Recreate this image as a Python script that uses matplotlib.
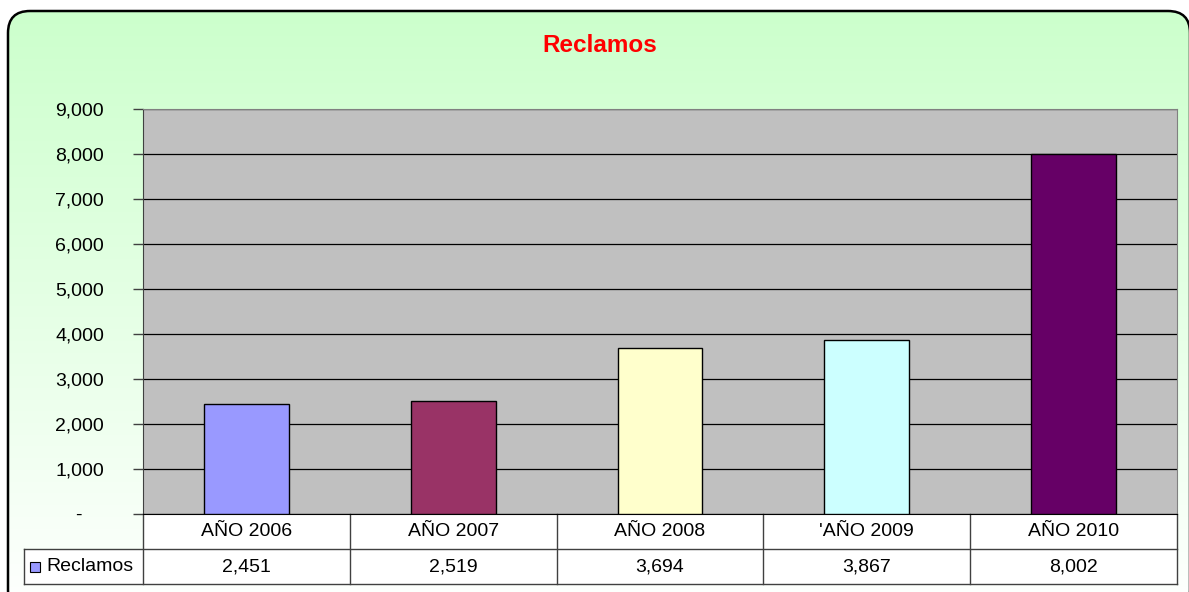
import matplotlib
matplotlib.use("Agg")
import matplotlib.pyplot as plt
import numpy as np
from matplotlib.patches import FancyBboxPatch, Rectangle
from matplotlib.lines import Line2D
import matplotlib.transforms as mtransforms

plt.rcParams['font.family'] = ['Liberation Sans', 'DejaVu Sans']

categories = ["AÑO 2006", "AÑO 2007", "AÑO 2008", "'AÑO 2009", "AÑO 2010"]
values = [2451, 2519, 3694, 3867, 8002]
value_labels = ["2,451", "2,519", "3,694", "3,867", "8,002"]
bar_colors = ["#9999FF", "#993366", "#FFFFCC", "#CCFFFF", "#660066"]
series_name = "Reclamos"
title = "Reclamos"
yticks = [0, 1000, 2000, 3000, 4000, 5000, 6000, 7000, 8000, 9000]
ytick_labels = ["-    ", "1,000", "2,000", "3,000", "4,000", "5,000", "6,000", "7,000", "8,000", "9,000"]

W, H = 1189, 592
fig = plt.figure(figsize=(W / 100, H / 100), dpi=100)
fig.patch.set_facecolor("white")

# background rounded box with gradient
bg = fig.add_axes([0, 0, 1, 1], zorder=-5)
bg.set_xlim(0, W)
bg.set_ylim(0, H)
bg.axis("off")
grad = np.linspace(0, 1, 256).reshape(-1, 1)
top = np.array([0xCC, 0xFF, 0xCC]) / 255.0
bot = np.array([1.0, 1.0, 1.0])
img = top[None, None, :] * (1 - grad[..., None]) + bot[None, None, :] * grad[..., None]
img = np.repeat(img, 2, axis=1)
box = FancyBboxPatch((8, -20), 1182, 601, boxstyle="round,pad=0,rounding_size=22",
                     facecolor="none", edgecolor="black", linewidth=1.8)
bg.add_patch(box)
im = bg.imshow(img, extent=[8, 1190, -20, 581], origin="upper", aspect="auto")
im.set_clip_path(box)

# main axes
left, right, topy, boty = 143, 1177, 109, 514
ax = fig.add_axes([left / W, 1 - boty / H, (right - left) / W, (boty - topy) / H])
ax.set_facecolor("#C0C0C0")
x = np.arange(len(categories))
ax.bar(x, values, width=0.41, color=bar_colors, edgecolor="black", linewidth=1.0, zorder=3)
ax.set_xlim(-0.5, len(categories) - 0.5)
ax.set_ylim(0, 9000)
ax.set_yticks(yticks)
ax.set_yticklabels(ytick_labels, fontsize=14)
ax.tick_params(axis="y", direction="out", length=7, width=1, color="#404040", pad=21)
ax.set_xticks([])
ax.yaxis.grid(True, color="black", linewidth=0.9, zorder=1)
ax.set_axisbelow(True)
for s in ["top", "right"]:
    ax.spines[s].set_color("#808080")
ax.spines["left"].set_color("#404040")
ax.spines["bottom"].set_color("black")

fig.text(600 / W, 1 - 45 / H, title, color="#FF0000", fontsize=17.5, fontweight="bold",
         ha="center", va="center")

# data table
axh = boty - topy
row = 35 / axh
trans = mtransforms.blended_transform_factory(ax.transData, ax.transAxes)
lc = "#404040"
legx = (24 - left) / (right - left)
# white cell backgrounds
ax.add_patch(Rectangle((0, -2 * row), 1, 2 * row, transform=ax.transAxes,
                       facecolor="white", edgecolor="none", clip_on=False, zorder=0.5))
ax.add_patch(Rectangle((legx, -2 * row), -legx, row, transform=ax.transAxes,
                       facecolor="white", edgecolor="none", clip_on=False, zorder=0.5))
# vertical lines between categories
for b in np.arange(-0.5, len(categories), 1.0):
    ax.add_line(Line2D([b, b], [0, -2 * row], transform=trans, color=lc, linewidth=1, clip_on=False))
# horizontal lines
ax.add_line(Line2D([legx, 1], [-row, -row], transform=ax.transAxes, color=lc, linewidth=1, clip_on=False))
ax.add_line(Line2D([legx, 1], [-2 * row, -2 * row], transform=ax.transAxes, color=lc, linewidth=1, clip_on=False))
ax.add_line(Line2D([legx, legx], [-row, -2 * row], transform=ax.transAxes, color=lc, linewidth=1, clip_on=False))
for i, (c, v) in enumerate(zip(categories, value_labels)):
    ax.text(i, -0.5 * row, c, transform=trans, ha="center", va="center", fontsize=14, clip_on=False)
    ax.text(i, -1.5 * row, v, transform=trans, ha="center", va="center", fontsize=14, clip_on=False)
# legend key
kx = (30 - left) / (right - left)
kw = 10 / (right - left)
kh = 10 / axh
ax.add_patch(Rectangle((kx, -1.5 * row - kh / 2), kw, kh, transform=ax.transAxes,
                       facecolor=bar_colors[0], edgecolor="black", linewidth=0.8, clip_on=False))
ax.text((46 - left) / (right - left), -1.5 * row, series_name, transform=ax.transAxes,
        ha="left", va="center", fontsize=14, clip_on=False)

fig.savefig("out.png", dpi=100)
